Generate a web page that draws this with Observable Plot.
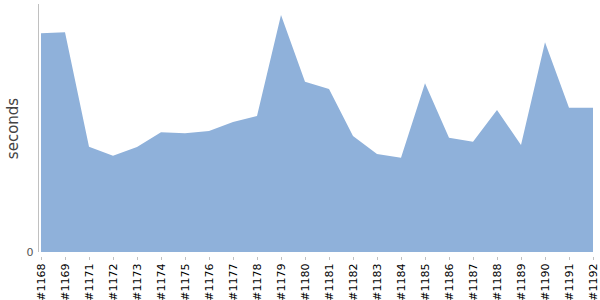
<!DOCTYPE html>
<html>
<head>
<meta charset="utf-8">
<script src="https://cdn.jsdelivr.net/npm/d3@7"></script>
<script src="https://cdn.jsdelivr.net/npm/@observablehq/plot@0.6"></script>
<style>
  html, body { margin: 0; padding: 0; background: #fff; }
  #chart svg { display: block; }
</style>
</head>
<body>
<div id="chart"></div>
<script>
const builds = ["#1168","#1169","#1171","#1172","#1173","#1174","#1175","#1176","#1177","#1178","#1179","#1180",
  "#1181","#1182","#1183","#1184","#1185","#1186","#1187","#1188","#1189","#1190","#1191","#1192"];
const seconds = [218.7,219.7,105.3,96.3,105,119.7,118.7,121,130,136,237,170.3,
  163,116,98,94.3,168.7,114.3,110.3,142,107,209.7,144.3,144.3];
const yLabel = "seconds";
const yMax = 248;

const data = builds.map((b, i) => ({build: b, sec: seconds[i]}));

const chart = Plot.plot({
  width: 600,
  height: 300,
  marginTop: 4,
  marginBottom: 48,
  marginLeft: 43,
  marginRight: 9,
  style: {fontFamily: "DejaVu Sans", fontSize: "11px", background: "#fff"},
  x: {type: "point", domain: builds, padding: 0, range: [33, 601]},
  y: {domain: [0, yMax]},
  marks: [
    Plot.areaY(data, {x: "build", y: "sec", fill: "#8fb1da", fillOpacity: 1}),
    Plot.ruleY([0], {x1: builds[0], x2: builds[builds.length - 1], dy: 5, stroke: "#c0c0c0"}),
    Plot.axisX({tickRotate: -90, tickSize: 3, tickPadding: 3, dy: 5, stroke: "#c0c0c0", fill: "#000", label: null}),
    Plot.ruleX([builds[0]], {y1: 0, y2: yMax, dx: -3, stroke: "#c0c0c0"}),
    Plot.axisY({ticks: [0], tickSize: 0, tickPadding: 10, fill: "#555", label: null}),
    Plot.text([yLabel], {frameAnchor: "left", dx: -30, rotate: -90, fontSize: 15, fill: "#444", textAnchor: "middle", letterSpacing: "0.6px"})
  ]
});
document.getElementById("chart").appendChild(chart);
</script>
</body>
</html>
